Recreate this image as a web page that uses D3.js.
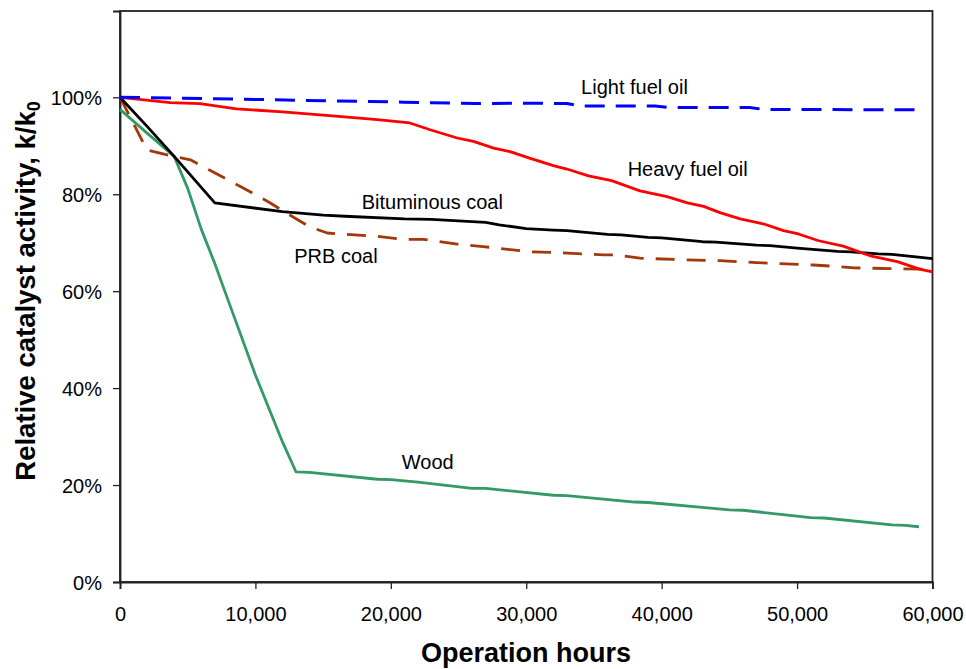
<!DOCTYPE html>
<html>
<head>
<meta charset="utf-8">
<script src="https://cdn.jsdelivr.net/npm/d3@7"></script>
<style>
  html, body { margin: 0; padding: 0; background: #fff; }
  svg { display: block; }
  text { font-family: "Liberation Sans", Arial, sans-serif; fill: #000; }
</style>
</head>
<body>
<svg id="chart" width="966" height="669"></svg>
<script>
// ---- Data ----
const seriesNames = ["Light fuel oil", "Heavy fuel oil", "Bituminous coal", "PRB coal", "Wood"];

const lightOilHours  = [0, 7000, 20900, 26300, 29500, 33000, 34000, 39500, 40500, 46500, 47500, 59000];
const lightOilValues = [1.000, 0.997, 0.990, 0.987, 0.988, 0.987, 0.982, 0.982, 0.979, 0.979, 0.975, 0.974];

const heavyOilHours  = [0, 3700, 5900, 8600, 12000, 15000, 19000, 21400, 22900, 24900, 26100, 27600, 28800, 30300, 32000, 33000, 34600, 36300, 38400, 40400, 41900, 43100, 44300, 45800, 47500, 49000, 50100, 51600, 53400, 55400, 57400, 59100, 60000];
const heavyOilValues = [1.000, 0.989, 0.987, 0.976, 0.970, 0.963, 0.954, 0.947, 0.933, 0.916, 0.909, 0.895, 0.888, 0.874, 0.859, 0.852, 0.838, 0.828, 0.807, 0.795, 0.782, 0.775, 0.762, 0.749, 0.739, 0.725, 0.718, 0.704, 0.693, 0.673, 0.661, 0.645, 0.640];

const bitCoalHours  = [0, 2000, 4000, 7000, 12000, 15000, 17000, 21000, 23000, 27000, 28000, 30000, 32000, 33000, 36000, 37000, 39000, 40000, 43000, 44000, 47000, 48000, 50000, 53000, 54000, 56000, 57000, 60000];
const bitCoalValues = [1.000, 0.940, 0.878, 0.782, 0.764, 0.757, 0.754, 0.749, 0.748, 0.742, 0.737, 0.729, 0.726, 0.725, 0.717, 0.716, 0.711, 0.710, 0.702, 0.701, 0.695, 0.694, 0.689, 0.682, 0.681, 0.677, 0.676, 0.667];

const prbCoalHours  = [0, 2000, 4000, 5200, 6600, 9100, 11100, 12300, 14000, 15300, 19000, 20900, 22400, 24900, 26800, 27800, 30300, 32000, 35700, 36500, 38400, 41400, 44300, 45600, 47000, 51200, 52900, 54200, 60000];
const prbCoalValues = [1.000, 0.891, 0.878, 0.871, 0.850, 0.813, 0.782, 0.761, 0.733, 0.720, 0.713, 0.707, 0.707, 0.697, 0.692, 0.689, 0.681, 0.680, 0.675, 0.675, 0.668, 0.665, 0.663, 0.661, 0.659, 0.654, 0.651, 0.648, 0.645];

const woodHours  = [0, 2000, 4000, 5000, 6000, 7000, 8000, 10000, 12000, 13000, 14000, 19000, 20000, 22000, 26000, 27000, 32000, 33000, 38000, 39000, 45000, 46000, 51000, 52000, 57000, 58000, 59000];
const woodValues = [0.975, 0.926, 0.878, 0.812, 0.728, 0.657, 0.580, 0.427, 0.289, 0.227, 0.226, 0.212, 0.211, 0.206, 0.193, 0.193, 0.179, 0.178, 0.165, 0.164, 0.149, 0.148, 0.133, 0.132, 0.118, 0.117, 0.114];

const xTickValues = [0, 10000, 20000, 30000, 40000, 50000, 60000];
const yTickValues = [0, 0.2, 0.4, 0.6, 0.8, 1.0];

const xTitle = "Operation hours";
const yTitleMain = "Relative catalyst activity, k/k";
const yTitleSub = "0";

// ---- Layout ----
const svg = d3.select("#chart");
const plot = { left: 120, right: 932.5, top: 11, bottom: 582 };

const x = d3.scaleLinear().domain([0, 60000]).range([plot.left, plot.right]);
const y = d3.scaleLinear().domain([0, 1.178]).range([plot.bottom, plot.top]);

// plot frame
svg.append("rect")
  .attr("x", plot.left).attr("y", plot.top)
  .attr("width", plot.right - plot.left).attr("height", plot.bottom - plot.top)
  .attr("fill", "none").attr("stroke", "#222").attr("stroke-width", 1.8);

// axes
const xAxis = svg.append("g")
  .attr("transform", `translate(0,${plot.bottom})`)
  .call(d3.axisBottom(x).tickValues(xTickValues).tickFormat(d3.format(",")).tickSize(7).tickPadding(18));
const yAxis = svg.append("g")
  .attr("transform", `translate(${plot.left},0)`)
  .call(d3.axisLeft(y).tickValues(yTickValues).tickFormat(d3.format(".0%")).tickSize(7).tickPadding(11));

[xAxis, yAxis].forEach(g => {
  g.select(".domain").attr("stroke", "#222").attr("stroke-width", 1.8);
  g.selectAll(".tick line").attr("stroke", "#222").attr("stroke-width", 1.3);
  g.selectAll(".tick text").attr("font-size", 20).attr("font-family", "Liberation Sans, Arial, sans-serif").attr("fill", "#000");
});
yAxis.selectAll(".tick text").attr("dy", "0.36em");

// series
const series = [
  { name: seriesNames[0], hours: lightOilHours, values: lightOilValues, color: "#0000FF", dash: "20,11", width: 3 },
  { name: seriesNames[1], hours: heavyOilHours, values: heavyOilValues, color: "#FF0000", dash: null, width: 2.8 },
  { name: seriesNames[2], hours: bitCoalHours, values: bitCoalValues, color: "#000000", dash: null, width: 2.8 },
  { name: seriesNames[3], hours: prbCoalHours, values: prbCoalValues, color: "#A3380A", dash: "19,12", width: 2.8 },
  { name: seriesNames[4], hours: woodHours, values: woodValues, color: "#339966", dash: null, width: 2.8 }
];

const line = d3.line().x(d => x(d[0])).y(d => y(d[1]));

// draw order: wood, PRB, bituminous, heavy, light
[4, 3, 2, 1, 0].forEach(i => {
  const s = series[i];
  svg.append("path")
    .datum(d3.zip(s.hours, s.values))
    .attr("d", line)
    .attr("fill", "none")
    .attr("stroke", s.color)
    .attr("stroke-width", s.width)
    .attr("stroke-linejoin", "round")
    .attr("stroke-dasharray", s.dash);
});

// series labels, anchored in data units
const labelAnchors = [
  { text: seriesNames[0], h: 34050, v: 1.0066 },
  { text: seriesNames[1], h: 37490, v: 0.838 },
  { text: seriesNames[2], h: 17850, v: 0.769 },
  { text: seriesNames[3], h: 12870, v: 0.659 },
  { text: seriesNames[4], h: 20810, v: 0.2326 }
];
svg.selectAll(".series-label")
  .data(labelAnchors)
  .enter().append("text")
  .attr("class", "series-label")
  .attr("x", d => x(d.h))
  .attr("y", d => y(d.v))
  .attr("font-size", 20)
  .text(d => d.text);

// axis titles
svg.append("text")
  .attr("x", 526)
  .attr("y", 662)
  .attr("text-anchor", "middle")
  .attr("font-size", 27)
  .attr("font-weight", "bold")
  .text(xTitle);

const yt = svg.append("text")
  .attr("transform", `translate(35,291) rotate(-90)`)
  .attr("text-anchor", "middle")
  .attr("font-size", 27.5)
  .attr("font-weight", "bold");
yt.append("tspan").text(yTitleMain);
yt.append("tspan").attr("font-size", 18).attr("dy", 5).text(yTitleSub);
</script>
</body>
</html>
